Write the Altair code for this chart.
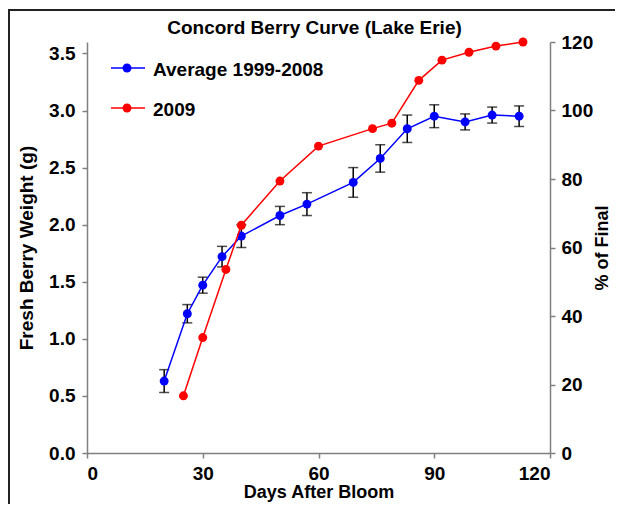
import altair as alt
import pandas as pd

# ---- data ----
avg_days = [20, 26, 30, 35, 40, 50, 57, 69, 76, 83, 90, 98, 105, 112]
avg_weight = [0.63, 1.22, 1.47, 1.72, 1.90, 2.08, 2.18, 2.37, 2.58, 2.84, 2.95, 2.90, 2.96, 2.95]
avg_err = [0.10, 0.08, 0.07, 0.09, 0.10, 0.08, 0.10, 0.13, 0.12, 0.12, 0.10, 0.07, 0.07, 0.09]

y2009_days = [25, 30, 36, 40, 50, 60, 74, 79, 86, 92, 99, 106, 113]
y2009_pct = [16.7, 33.7, 53.6, 66.5, 79.4, 89.6, 94.7, 96.3, 108.8, 114.7, 117.0, 118.8, 120.0]

series_names = ["Average 1999-2008", "2009"]
series_colors = ["#0000FF", "#FF0000"]
chart_title = ["Concord Berry Curve (Lake Erie)"]

x_ticks = [0, 30, 60, 90, 120]
left_ticks = [0, 0.5, 1.0, 1.5, 2.0, 2.5, 3.0, 3.5]
right_ticks = [0, 20, 40, 60, 80, 100, 120]

FONT = "Liberation Sans"
W, H = 463, 411
TOTAL_W, TOTAL_H = 607, 496
PAD = {"left": 79, "top": 34, "right": TOTAL_W - 79 - W, "bottom": TOTAL_H - 34 - H}

avg = pd.DataFrame({
    "day": avg_days,
    "weight": avg_weight,
    "lo": [w - e for w, e in zip(avg_weight, avg_err)],
    "hi": [w + e for w, e in zip(avg_weight, avg_err)],
})
d09 = pd.DataFrame({"day": y2009_days, "pct": y2009_pct})

xenc = alt.X("day:Q", scale=alt.Scale(domain=[0, 120], nice=False),
             axis=alt.Axis(values=x_ticks, title="Days After Bloom", labelPadding=6,
                           titlePadding=0, titleFontSize=18))


def yleft(field):
    return alt.Y(f"{field}:Q", scale=alt.Scale(domain=[0, 3.6], nice=False),
                 axis=alt.Axis(values=left_ticks, format=".1f", orient="left",
                               title="Fresh Berry Weight (g)", labelPadding=7, titlePadding=12))


yright = alt.Y("pct:Q", scale=alt.Scale(domain=[0, 120], nice=False),
               axis=alt.Axis(values=right_ticks, format="d", orient="right", title="% of Final",
                             titleAngle=270, titleBaseline="top", titleFontSize=18,
                             labelPadding=6, titlePadding=1))

base_avg = alt.Chart(avg)
err_rule = base_avg.mark_rule(color="#000000", strokeWidth=1.5).encode(x=xenc, y=yleft("lo"), y2="hi")
cap_lo = base_avg.mark_tick(orient="horizontal", color="#000000", size=10, thickness=1.5).encode(x=xenc, y=yleft("lo"))
cap_hi = base_avg.mark_tick(orient="horizontal", color="#000000", size=10, thickness=1.5).encode(x=xenc, y=yleft("hi"))
avg_line = base_avg.mark_line(color=series_colors[0], strokeWidth=1.5).encode(x=xenc, y=yleft("weight"))
avg_pts = base_avg.mark_point(filled=True, color=series_colors[0], size=80, opacity=1).encode(x=xenc, y=yleft("weight"))
left_group = alt.layer(err_rule, cap_lo, cap_hi, avg_line, avg_pts)

base09 = alt.Chart(d09)
l09 = base09.mark_line(color=series_colors[1], strokeWidth=1.5).encode(x=xenc, y=yright)
p09 = base09.mark_point(filled=True, color=series_colors[1], size=80, opacity=1).encode(x=xenc, y=yright)
right_group = alt.layer(l09, p09)

# chart-area frame (decoration): only the top and left edges are inside the picture
fdf = pd.DataFrame({"a": [0]})
frame_top = alt.Chart(fdf).mark_rule(color="#222222", strokeWidth=2).encode(
    x=alt.value(-78), x2=alt.value(TOTAL_W), y=alt.value(-32))
frame_left = alt.Chart(fdf).mark_rule(color="#222222", strokeWidth=2).encode(
    x=alt.value(-78), y=alt.value(-33), y2=alt.value(TOTAL_H))

title_mark = alt.Chart(pd.DataFrame({"t": chart_title})).mark_text(
    align="center", baseline="middle", font=FONT, fontSize=19, fontWeight="bold", color="#000000"
).encode(x=alt.value(W / 2 - 4), y=alt.value(-14), text="t:N")

# in-plot legend
legend_layers = []
for i, (name, col) in enumerate(zip(series_names, series_colors)):
    ly = 26 + i * 40
    ldf = pd.DataFrame({"label": [name]})
    lb = alt.Chart(ldf)
    legend_layers.append(lb.mark_rule(color=col, strokeWidth=1.5).encode(
        x=alt.value(24), x2=alt.value(58), y=alt.value(ly)))
    legend_layers.append(lb.mark_point(filled=True, color=col, size=80, opacity=1).encode(
        x=alt.value(40), y=alt.value(ly)))
    legend_layers.append(lb.mark_text(align="left", baseline="middle", font=FONT, fontSize=19,
                                      fontWeight="bold", color="#000000").encode(
        x=alt.value(66), y=alt.value(ly + 2), text="label:N"))

chart = alt.layer(frame_top, frame_left, title_mark, left_group, right_group, *legend_layers).resolve_scale(
    y="independent"
).properties(
    width=W, height=H,
    autosize=alt.AutoSizeParams(type="none"),
    padding=PAD,
).configure_view(stroke=None).configure_axis(
    grid=False, labelFont=FONT, titleFont=FONT, labelFontSize=19, titleFontSize=19,
    labelFontWeight="bold", titleFontWeight="bold", labelColor="#000000", titleColor="#000000",
    domainColor="#808080", tickColor="#808080", domainWidth=1.5, tickWidth=1.5, tickSize=5,
)

chart.save("out.html", embed_options={"renderer": "svg", "actions": False})
